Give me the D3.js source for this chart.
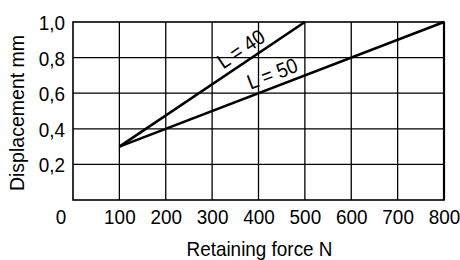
<!DOCTYPE html>
<html><head><meta charset="utf-8">
<script src="https://cdn.jsdelivr.net/npm/d3@7"></script>
<style>body{margin:0;background:#fff}svg{display:block}text{font-family:"Liberation Sans",Arial,sans-serif;fill:#000}</style>
</head><body><svg id="c" width="460" height="260"></svg>
<script>
const xTicks = [0,100,200,300,400,500,600,700,800];
const yTicks = [0.2,0.4,0.6,0.8,1.0];
const seriesNames = ["L = 40","L = 50"];
const seriesForce = [[100,500],[100,800]];
const seriesDisp = [[0.3,1.0],[0.3,1.0]];
const labelAt = [378,440];

const FS = 21, SX = 0.9;
const svg = d3.select("#c");
const m = {l:73,r:16,t:22,b:60};
const W=460,H=260;
const x = d3.scaleLinear().domain([0,800]).range([m.l,W-m.r]);
const y = d3.scaleLinear().domain([0,1.0]).range([H-m.b,m.t]);
const fmt = d => d3.format(".1f")(d).replace(".",",");

// grid
const g = svg.append("g");
g.selectAll(".vx").data(xTicks.filter(d=>d>0&&d<800)).join("line")
 .attr("x1",d=>x(d)).attr("x2",d=>x(d)).attr("y1",y(0)).attr("y2",y(1))
 .attr("stroke","#000").attr("stroke-width",1.3);
g.selectAll(".hy").data(yTicks.filter(d=>d<1)).join("line")
 .attr("x1",x(0)).attr("x2",x(800)).attr("y1",d=>y(d)).attr("y2",d=>y(d))
 .attr("stroke","#000").attr("stroke-width",1.3);
g.append("rect").attr("x",x(0)).attr("y",y(1)).attr("width",x(800)-x(0)).attr("height",y(0)-y(1))
 .attr("fill","none").attr("stroke","#000").attr("stroke-width",1.6);
g.append("line").attr("x1",x(800)).attr("x2",x(800)).attr("y1",y(0)).attr("y2",y(1)).attr("stroke","#000").attr("stroke-width",2.2);

// axes labels
const xa = svg.append("g").attr("transform",`translate(0,${y(0)})`)
 .call(d3.axisBottom(x).tickValues(xTicks).tickSize(0).tickPadding(9).tickFormat(d3.format("d")));
xa.select(".domain").remove();
xa.selectAll("text").attr("font-size",FS).attr("font-family","Liberation Sans, Arial").attr("dy","0.71em")
 .attr("dx",d=>d===0?-14:0)
 .attr("transform",`scale(${SX},1)`);
const ya = svg.append("g").attr("transform",`translate(${x(0)},0)`)
 .call(d3.axisLeft(y).tickValues(yTicks).tickSize(0).tickPadding(9).tickFormat(fmt));
ya.select(".domain").remove();
ya.selectAll("text").attr("font-size",FS).attr("font-family","Liberation Sans, Arial").attr("dy","0.36em")
 .attr("transform",`scale(${SX},1)`);

svg.append("text").attr("transform",`translate(${(x(0)+x(800))/2+1},256) scale(${SX},1)`).attr("text-anchor","middle").attr("font-size",FS).text("Retaining force N");
svg.append("text").attr("transform",`translate(24,113) rotate(-90) scale(0.93,1)`).attr("text-anchor","middle").attr("font-size",FS).text("Displacement mm");

// lines
seriesNames.forEach((n,i)=>{
  const pts = seriesForce[i].map((f,j)=>[f,seriesDisp[i][j]]);
  svg.append("path").datum(pts).attr("d",d3.line().x(d=>x(d[0])).y(d=>y(d[1])))
   .attr("fill","none").attr("stroke","#000").attr("stroke-width",2.6);
  const [p0,p1]=pts;
  const ang = Math.atan2(y(p1[1])-y(p0[1]), x(p1[0])-x(p0[0]))*180/Math.PI;
  const lx = labelAt[i];
  const ly = p0[1]+(p1[1]-p0[1])*(lx-p0[0])/(p1[0]-p0[0]);
  svg.append("text").attr("transform",`translate(${x(lx)},${y(ly)}) rotate(${ang}) scale(${SX},1)`)
   .attr("text-anchor","middle").attr("dy",-6).attr("font-size",FS).text(n);
});
</script></body></html>
